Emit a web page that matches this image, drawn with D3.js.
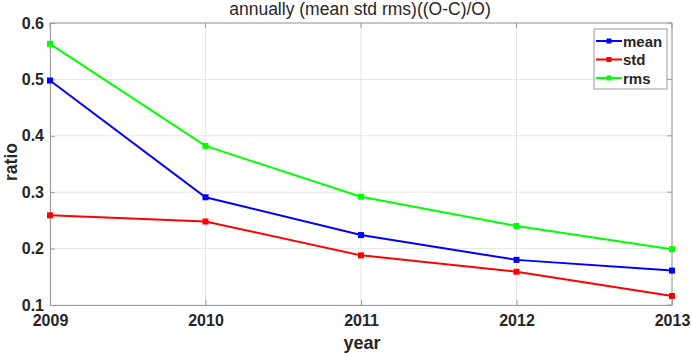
<!DOCTYPE html>
<html>
<head>
<meta charset="UTF-8">
<script src="https://cdn.jsdelivr.net/npm/d3@7"></script>
<style>
  body { margin: 0; background: #fff; }
  text { font-family: "Liberation Sans", Arial, sans-serif; }
</style>
</head>
<body>
<script>
    var years = [2009, 2010, 2011, 2012, 2013];
    var meanVals = [0.498, 0.291, 0.224, 0.180, 0.161];
    var stdVals = [0.259, 0.248, 0.188, 0.159, 0.116];
    var rmsVals = [0.563, 0.382, 0.292, 0.240, 0.199];
    var yTicks = [0.1, 0.2, 0.3, 0.4, 0.5, 0.6];

    var series = [
        {name: "mean", values: meanVals, color: "#0000ff"},
        {name: "std", values: stdVals, color: "#ff0000"},
        {name: "rms", values: rmsVals, color: "#00ff00"}
    ];

    var W = 692, H = 357;
    var pL = 50, pR = 672, pT = 23, pB = 305;

    var x = d3.scaleLinear().domain([2009, 2013]).range([pL, pR]);
    var y = d3.scaleLinear().domain([0.1, 0.6]).range([pB, pT]);

    var svg = d3.select("body").append("svg")
        .attr("width", W).attr("height", H);

    // grid
    svg.append("g").selectAll("line")
        .data(years).enter().append("line")
        .attr("x1", function(d){ return x(d); }).attr("x2", function(d){ return x(d); })
        .attr("y1", pT).attr("y2", pB)
        .attr("stroke", "#e6e6e6").attr("stroke-width", 1);
    svg.append("g").selectAll("line")
        .data(yTicks).enter().append("line")
        .attr("x1", pL).attr("x2", pR)
        .attr("y1", function(d){ return y(d); }).attr("y2", function(d){ return y(d); })
        .attr("stroke", "#e6e6e6").attr("stroke-width", 1);

    // axes (ticks inward)
    var xAxis = d3.axisBottom(x).tickValues(years).tickFormat(d3.format("d")).tickSizeInner(-5).tickSizeOuter(0).tickPadding(10);
    var yAxis = d3.axisLeft(y).tickValues(yTicks).tickFormat(d3.format(".1f")).tickSizeInner(-5).tickSizeOuter(0).tickPadding(6);

    var gx = svg.append("g").attr("transform", "translate(0," + pB + ")").call(xAxis);
    var gy = svg.append("g").attr("transform", "translate(" + pL + ",0)").call(yAxis);
    [gx, gy].forEach(function(g){
        g.selectAll("path, line").attr("stroke", "#9a9a9a");
        g.selectAll("text").attr("fill", "#262626")
            .style("font-size", "16px").style("font-weight", "bold");
    });

    // box top and right
    svg.append("line").attr("x1", pL).attr("x2", pR).attr("y1", pT).attr("y2", pT).attr("stroke", "#9a9a9a");
    svg.append("line").attr("x1", pR).attr("x2", pR).attr("y1", pT).attr("y2", pB).attr("stroke", "#9a9a9a");
    svg.append("g").selectAll("line")
        .data(years).enter().append("line")
        .attr("x1", function(d){ return x(d); }).attr("x2", function(d){ return x(d); })
        .attr("y1", pT).attr("y2", pT + 5).attr("stroke", "#9a9a9a");
    svg.append("g").selectAll("line")
        .data(yTicks).enter().append("line")
        .attr("x1", pR - 5).attr("x2", pR)
        .attr("y1", function(d){ return y(d); }).attr("y2", function(d){ return y(d); })
        .attr("stroke", "#9a9a9a");

    // lines
    var line = d3.line()
        .x(function(d, i){ return x(years[i]); })
        .y(function(d){ return y(d); });

    series.forEach(function(s){
        svg.append("path").datum(s.values)
            .attr("d", line).attr("fill", "none")
            .attr("stroke", s.color).attr("stroke-width", 2);
        svg.append("g").selectAll("rect")
            .data(s.values).enter().append("rect")
            .attr("x", function(d, i){ return x(years[i]) - 3; })
            .attr("y", function(d){ return y(d) - 3; })
            .attr("width", 6).attr("height", 6)
            .attr("fill", s.color);
    });

    // title and labels
    svg.append("text").attr("x", 360).attr("y", 15)
        .attr("text-anchor", "middle").attr("fill", "#262626")
        .style("font-size", "17.5px").text("annually (mean std rms)((O-C)/O)");
    svg.append("text").attr("x", 362).attr("y", 349)
        .attr("text-anchor", "middle").attr("fill", "#262626")
        .style("font-size", "18px").style("font-weight", "bold").text("year");
    svg.append("text").attr("transform", "translate(17,162) rotate(-90)")
        .attr("text-anchor", "middle").attr("fill", "#262626")
        .style("font-size", "17.5px").style("font-weight", "bold").text("ratio");

    // legend
    var lg = svg.append("g").attr("transform", "translate(594,29)");
    lg.append("rect").attr("width", 73).attr("height", 60)
        .attr("fill", "#fff").attr("stroke", "#9a9a9a");
    series.forEach(function(s, i){
        var cy = 12 + i * 18.5;
        lg.append("line").attr("x1", 2).attr("x2", 28).attr("y1", cy).attr("y2", cy)
            .attr("stroke", s.color).attr("stroke-width", 2);
        lg.append("rect").attr("x", 12.5).attr("y", cy - 2.5).attr("width", 5).attr("height", 5)
            .attr("fill", s.color);
        lg.append("text").attr("x", 29).attr("y", cy + 5.5)
            .attr("fill", "#262626").style("font-size", "15px").style("font-weight", "bold")
            .text(s.name);
    });
</script>
</body>
</html>
